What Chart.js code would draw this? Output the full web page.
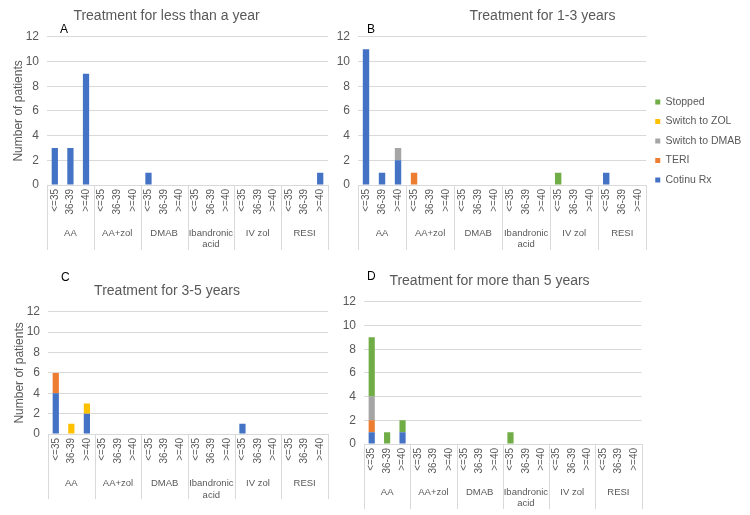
<!DOCTYPE html>
<html>
<head>
<meta charset="utf-8">
<script src="https://cdn.jsdelivr.net/npm/chart.js@4.4.1/dist/chart.umd.min.js"></script>
<style>
body { margin: 0; background: #fff; width: 750px; height: 515px; position: relative; overflow: hidden; font-family: "Liberation Sans", Arial, sans-serif; }
.box { position: absolute; }
.letter { position: absolute; font-size: 12px; color: #000; }
</style>
</head>
<body>
<div class="box" style="left:0;top:0;width:340px;height:258px"><canvas id="chartA"></canvas></div>
<div class="box" style="left:335px;top:0;width:415px;height:258px"><canvas id="chartB"></canvas></div>
<div class="box" style="left:0;top:262px;width:340px;height:253px"><canvas id="chartC"></canvas></div>
<div class="box" style="left:335px;top:262px;width:315px;height:253px"><canvas id="chartD"></canvas></div>
<div class="letter" style="left:60px;top:22px">A</div>
<div class="letter" style="left:367px;top:22px">B</div>
<div class="letter" style="left:61px;top:270px">C</div>
<div class="letter" style="left:367px;top:269px">D</div>
<script>
const ages = ['<=35', '36-39', '>=40'];
const groups = ['AA', 'AA+zol', 'DMAB', ['Ibandronic', 'acid'], 'IV zol', 'RESI'];
const seriesNames = ['Cotinu Rx', 'TERI', 'Switch to DMAB', 'Switch to ZOL', 'Stopped'];
const seriesColors = ['#4472C4', '#ED7D31', '#A5A5A5', '#FFC000', '#70AD47'];

// Treatment for less than a year
const cotinuA  = [3,3,9, 0,0,0, 1,0,0, 0,0,0, 0,0,0, 0,0,1];
const teriA    = [0,0,0, 0,0,0, 0,0,0, 0,0,0, 0,0,0, 0,0,0];
const dmabA    = [0,0,0, 0,0,0, 0,0,0, 0,0,0, 0,0,0, 0,0,0];
const zolA     = [0,0,0, 0,0,0, 0,0,0, 0,0,0, 0,0,0, 0,0,0];
const stoppedA = [0,0,0, 0,0,0, 0,0,0, 0,0,0, 0,0,0, 0,0,0];

// Treatment for 1-3 years
const cotinuB  = [11,1,2, 0,0,0, 0,0,0, 0,0,0, 0,0,0, 1,0,0];
const teriB    = [0,0,0, 1,0,0, 0,0,0, 0,0,0, 0,0,0, 0,0,0];
const dmabB    = [0,0,1, 0,0,0, 0,0,0, 0,0,0, 0,0,0, 0,0,0];
const zolB     = [0,0,0, 0,0,0, 0,0,0, 0,0,0, 0,0,0, 0,0,0];
const stoppedB = [0,0,0, 0,0,0, 0,0,0, 0,0,0, 1,0,0, 0,0,0];

// Treatment for 3-5 years
const cotinuC  = [4,0,2, 0,0,0, 0,0,0, 0,0,0, 1,0,0, 0,0,0];
const teriC    = [2,0,0, 0,0,0, 0,0,0, 0,0,0, 0,0,0, 0,0,0];
const dmabC    = [0,0,0, 0,0,0, 0,0,0, 0,0,0, 0,0,0, 0,0,0];
const zolC     = [0,1,1, 0,0,0, 0,0,0, 0,0,0, 0,0,0, 0,0,0];
const stoppedC = [0,0,0, 0,0,0, 0,0,0, 0,0,0, 0,0,0, 0,0,0];

// Treatment for more than 5 years
const cotinuD  = [1,0,1, 0,0,0, 0,0,0, 0,0,0, 0,0,0, 0,0,0];
const teriD    = [1,0,0, 0,0,0, 0,0,0, 0,0,0, 0,0,0, 0,0,0];
const dmabD    = [2,0,0, 0,0,0, 0,0,0, 0,0,0, 0,0,0, 0,0,0];
const zolD     = [0,0,0, 0,0,0, 0,0,0, 0,0,0, 0,0,0, 0,0,0];
const stoppedD = [5,1,1, 0,0,0, 0,0,0, 1,0,0, 0,0,0, 0,0,0];

const labels = groups.flatMap(() => ages);

Chart.defaults.font.family = '"Liberation Sans", Arial, sans-serif';
Chart.defaults.color = '#595959';

// vertical separators between the groups, running down through both label rows
const groupLines = {
    id: 'groupLines',
    afterDraw(chart) {
        const x = chart.scales.x;
        const x2 = chart.scales.x2;
        const ctx = chart.ctx;
        const w = (x.right - x.left) / groups.length;
        ctx.save();
        ctx.strokeStyle = '#d9d9d9';
        ctx.lineWidth = 1;
        for (let i = 0; i <= groups.length; i++) {
            const px = Math.round(x.left + i * w) + 0.5;
            ctx.beginPath();
            ctx.moveTo(px, chart.chartArea.bottom);
            ctx.lineTo(px, x2.bottom - 1);
            ctx.stroke();
        }
        ctx.restore();
    }
};

function makeChart(id, series, opt) {
    const datasets = series.map((d, i) => ({
        label: seriesNames[i],
        data: d,
        backgroundColor: seriesColors[i],
        borderWidth: 0,
        xAxisID: 'x',
        barPercentage: 0.4,
        categoryPercentage: 1
    }));
    return new Chart(document.getElementById(id), {
        type: 'bar',
        data: { labels: labels, datasets: datasets },
        plugins: [groupLines],
        options: {
            responsive: true,
            maintainAspectRatio: false,
            animation: false,
            layout: { padding: opt.padding },
            plugins: {
                title: {
                    display: true,
                    text: opt.title,
                    color: '#595959',
                    font: { size: 14, weight: 'normal' },
                    padding: opt.titlePad
                },
                legend: {
                    display: !!opt.legend,
                    position: 'right',
                    reverse: true,
                    title: { display: true, text: ' ', font: { size: 10 }, padding: { top: 13, bottom: 0 } },
                    labels: { boxWidth: 5, boxHeight: 5, padding: 9, font: { size: 10.5 }, color: '#595959' }
                },
                tooltip: { enabled: false }
            },
            scales: {
                x: {
                    stacked: true,
                    grid: { display: false, drawTicks: false },
                    border: { display: true, color: '#d9d9d9' },
                    ticks: { minRotation: 90, maxRotation: 90, autoSkip: false, font: { size: 10 }, padding: 4 },
                    afterFit: s => { s.height = opt.xh; }
                },
                x2: {
                    type: 'category',
                    labels: groups,
                    position: 'bottom',
                    grid: { display: false, drawTicks: false },
                    border: { display: false },
                    ticks: { minRotation: 0, maxRotation: 0, autoSkip: false, font: { size: 9.5 }, padding: opt.x2pad },
                    afterFit: s => { s.height = opt.x2h; }
                },
                y: {
                    stacked: true,
                    min: 0,
                    max: 12,
                    ticks: { stepSize: 2, autoSkip: false, font: { size: 12 }, padding: 8 },
                    grid: { color: '#d9d9d9', drawTicks: false },
                    border: { display: false },
                    title: { display: !!opt.yTitle, text: 'Number of patients', font: { size: 12 }, padding: { top: 6, bottom: 0 } },
                    afterFit: s => { s.width = opt.yw; }
                }
            }
        }
    });
}

makeChart('chartA', [cotinuA, teriA, dmabA, zolA, stoppedA], {
    title: 'Treatment for less than a year', yTitle: true, yw: 42, xh: 36, x2h: 30, x2pad: 6.5,
    padding: { left: 5, right: 12, top: 6, bottom: 7 }, titlePad: { top: 2, bottom: 12 }
});
makeChart('chartB', [cotinuB, teriB, dmabB, zolB, stoppedB], {
    title: 'Treatment for 1-3 years', legend: true, yw: 23, xh: 36, x2h: 30, x2pad: 6.5,
    padding: { left: 0, right: 0, top: 6, bottom: 7 }, titlePad: { top: 2, bottom: 12 }
});
makeChart('chartC', [cotinuC, teriC, dmabC, zolC, stoppedC], {
    title: 'Treatment for 3-5 years', yTitle: true, yw: 42, xh: 38, x2h: 28, x2pad: 6,
    padding: { left: 6, right: 12, top: 19, bottom: 15 }, titlePad: { top: 2, bottom: 12 }
});
makeChart('chartD', [cotinuD, teriD, dmabD, zolD, stoppedD], {
    title: 'Treatment for more than 5 years', yw: 29, xh: 36, x2h: 30, x2pad: 6.5,
    padding: { left: 0, right: 6, top: 9, bottom: 5 }, titlePad: { top: 2, bottom: 12 }
});
</script>
</body>
</html>
